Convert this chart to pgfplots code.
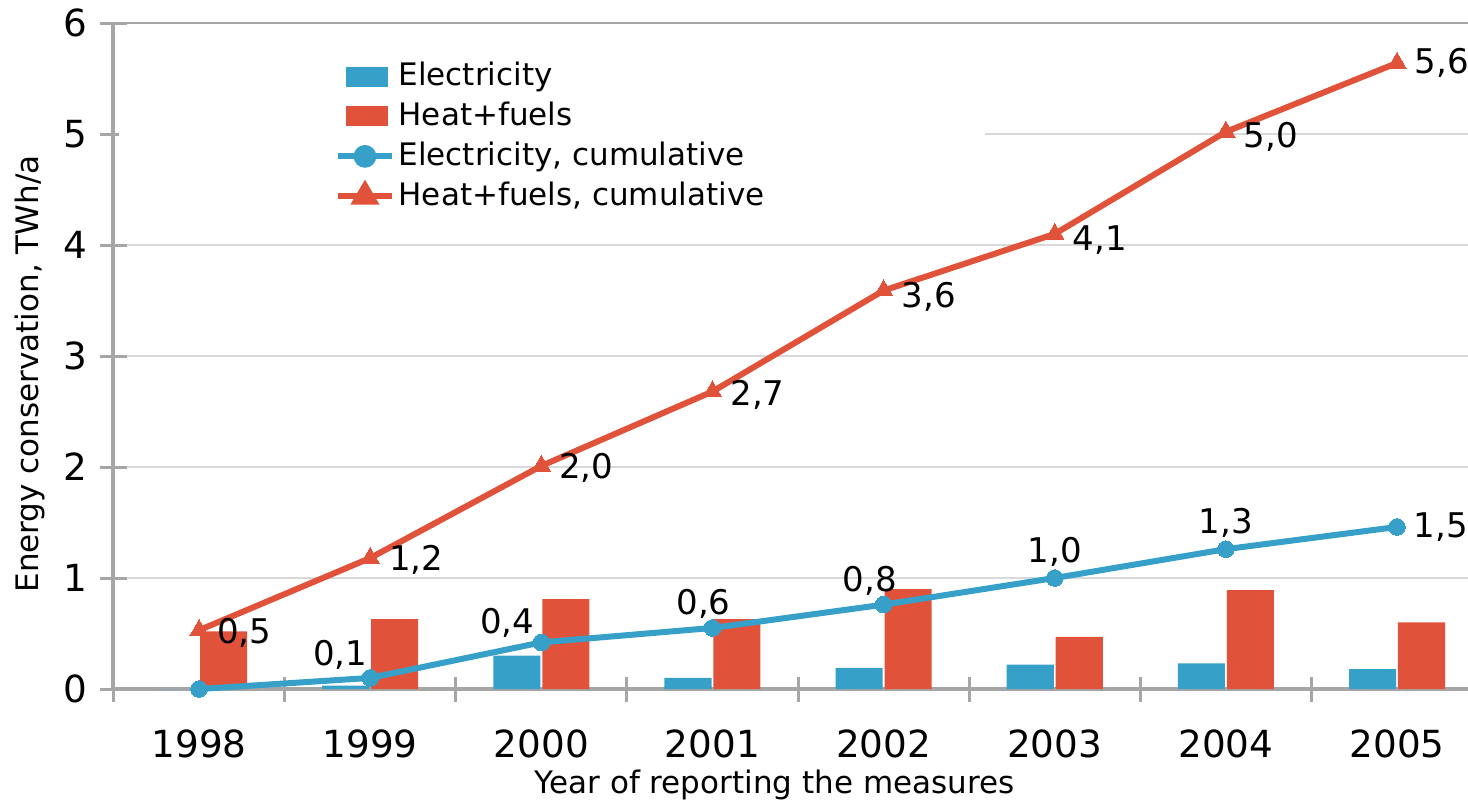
\documentclass[border=0pt]{standalone}
\usepackage{pgfplots}
\pgfplotsset{compat=1.18}
\usepackage{pgfplotstable}
\usepackage{fontspec}
\setmainfont{DejaVu Sans}

\definecolor{elec}{RGB}{54,160,200}
\definecolor{heat}{RGB}{224,83,58}
\definecolor{axgray}{RGB}{166,166,166}
\definecolor{gridgray}{RGB}{217,217,217}

% annual savings, TWh/a
\pgfplotstableread{
x elec heat
0 0.00 0.52
1 0.03 0.63
2 0.30 0.81
3 0.10 0.63
4 0.19 0.90
5 0.22 0.47
6 0.23 0.89
7 0.18 0.60
}\annual

% cumulative, label offsets in px of the reference
\pgfplotstableread{
x y lab dx dy
0 0.00 {} 0 0
1 0.10 0,1 -30 23
2 0.42 0,4 -34 20
3 0.55 0,6 -9 24
4 0.76 0,8 -14 24
5 1.00 1,0 0 26
6 1.26 1,3 0 26
7 1.46 1,5 44 0
}\eleccum

\pgfplotstableread{
x y lab dx dy
0 0.53 0,5 45 -3
1 1.18 1,2 46 -2
2 2.01 2,0 45 -2
3 2.68 2,7 45 -3
4 3.59 3,6 45 -6
5 4.10 4,1 45 -6
6 5.02 5,0 45 -5
7 5.64 5,6 45 0
}\heatcum

\pgfplotsset{
  cumlabels/.style={
    nodes near coords,
    point meta=explicit symbolic,
    visualization depends on={\thisrow{dx} \as \dx},
    visualization depends on={\thisrow{dy} \as \dy},
    every node near coord/.style={anchor=center, inner sep=0pt,
      xshift=\dx*0.3pt, yshift=\dy*0.3pt,
      font=\fontsize{10.2}{12}\selectfont, text=black},
  },
}

\begin{document}
\begin{tikzpicture}
\begin{axis}[
  scale only axis, width=406.35pt, height=199.8pt,
  xmin=-0.5, xmax=7.415, ymin=0, ymax=6,
  clip=false,
  axis x line=bottom, axis y line=left,
  axis line style={draw=axgray, line width=1.2pt, -},
  x axis line style={-}, y axis line style={-},
  xtick={0,...,7},
  xticklabels={1998,1999,2000,2001,2002,2003,2004,2005},
  major x tick style={draw=none},
  minor xtick={-0.5,0.5,...,6.5},
  minor tick length=7.5pt,
  ytick={0,...,5},
  extra y ticks={6},
  extra y tick style={grid style={draw=axgray, line width=0.4pt}},
  major tick length=8pt,
  tick align=center,
  tick style={draw=axgray, line width=0.9pt},
  ymajorgrids,
  grid style={draw=gridgray, line width=0.35pt},
  /pgf/number format/assume math mode=true,
  ticklabel style={font=\fontsize{11.2}{13}\selectfont},
  yticklabel shift=0.4pt,
  xticklabel shift=4.6pt,
  every axis x label/.style={at={(axis description cs:0.488,0)}, anchor=center, yshift=-28.8pt},
  every axis y label/.style={at={(axis description cs:0,0.473)}, xshift=-25pt, rotate=90, anchor=center},
  label style={font=\fontsize{9.3}{11}\selectfont},
  xlabel={Year of reporting the measures},
  ylabel={Energy conservation, TWh/a},
  legend style={at={(axis description cs:0.0033,0.967)}, anchor=north west,
    fill=white, draw=none, inner xsep=65pt, inner ysep=3pt,
    font=\fontsize{9.3}{11}\selectfont, row sep=-0.6pt,
    nodes={inner xsep=1.2pt}},
  legend cell align=left,
]
\addplot[ybar, bar width=0.275, bar shift=-0.143, fill=elec, draw=none,
  legend image code/.code={\fill[elec] (2.4pt,-3pt) rectangle (15pt,3pt);}]
  table[x=x, y=elec] {\annual};
\addlegendentry{Electricity}
\addplot[ybar, bar width=0.275, bar shift=0.143, fill=heat, draw=none,
  legend image code/.code={\fill[heat] (2.4pt,-3pt) rectangle (15pt,3pt);}]
  table[x=x, y=heat] {\annual};
\addlegendentry{Heat+fuels}
\addplot[elec, line width=1.8pt, mark=*, mark size=2.5pt,
  mark options={fill=elec, draw=elec, line width=0pt}, cumlabels,
  legend image code/.code={\draw[elec, line width=1.8pt] (0pt,0pt) -- (16pt,0pt);
    \fill[elec] (8pt,0pt) circle (2.5pt);}]
  table[x=x, y=y, meta=lab] {\eleccum};
\addlegendentry{Electricity, cumulative}
\addplot[heat, line width=1.8pt, mark=triangle*, mark size=3.2pt,
  mark options={fill=heat, draw=heat, line width=0pt}, cumlabels,
  legend image code/.code={\draw[heat, line width=1.8pt] (0pt,0pt) -- (16pt,0pt);
    \fill[heat] (8pt,3.2pt) -- (5.2pt,-1.6pt) -- (10.8pt,-1.6pt) -- cycle;}]
  table[x=x, y=y, meta=lab] {\heatcum};
\addlegendentry{Heat+fuels, cumulative}
\coordinate (bl) at (rel axis cs:0,0);
\end{axis}
\pgfresetboundingbox
\path (bl) ++(-34.05pt,-34.8pt) rectangle ++(440.4pt,241.5pt);
\end{tikzpicture}
\end{document}
